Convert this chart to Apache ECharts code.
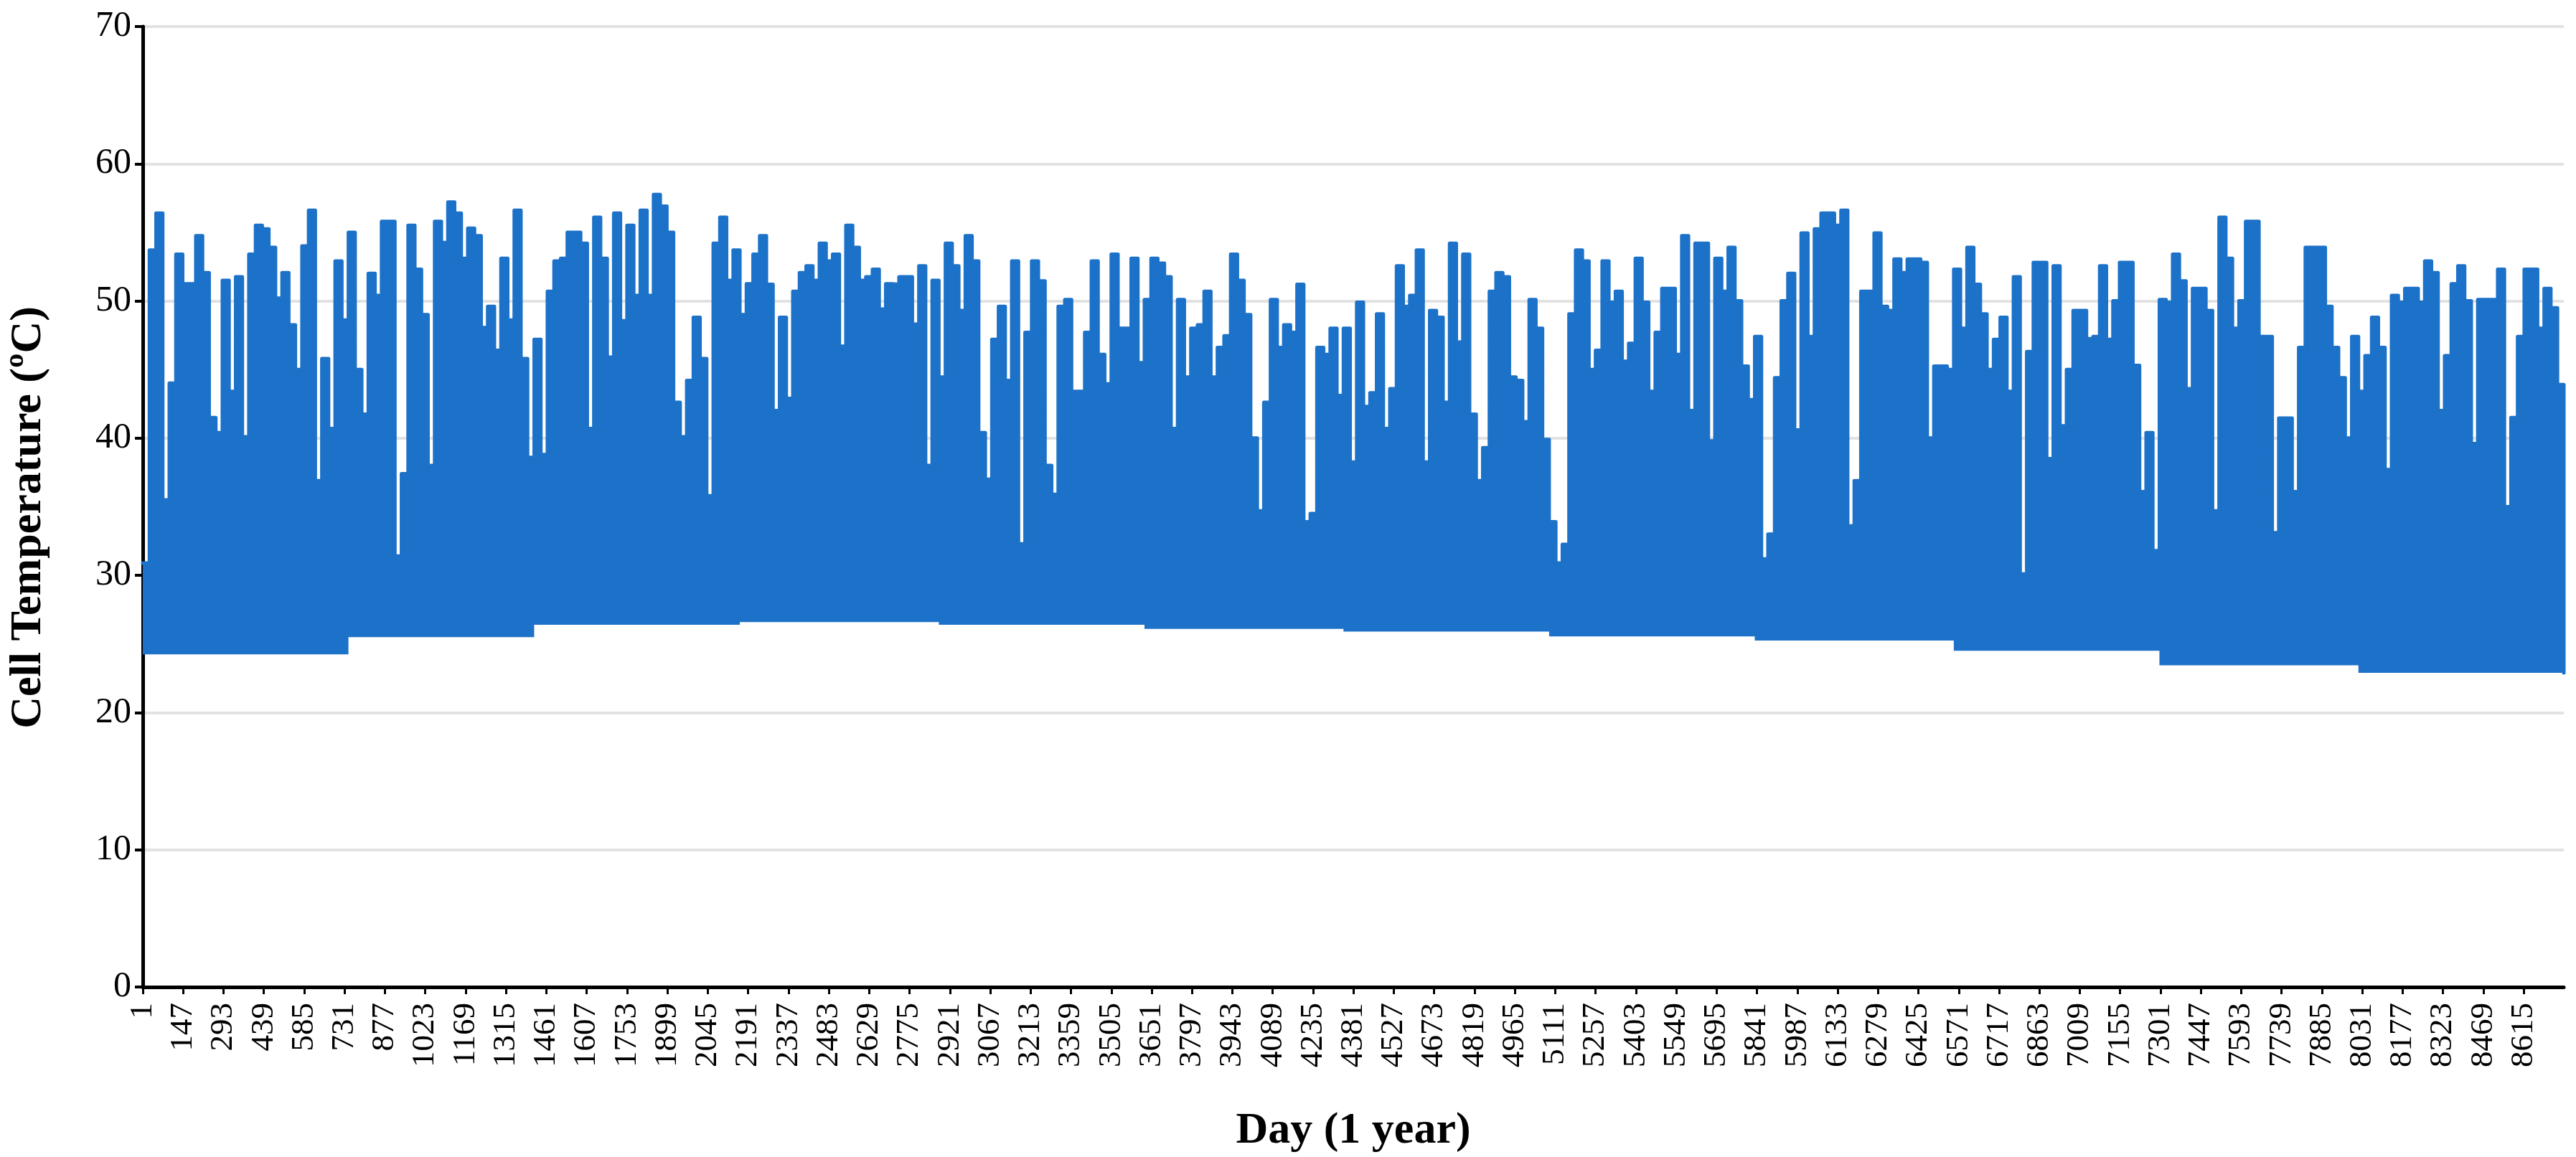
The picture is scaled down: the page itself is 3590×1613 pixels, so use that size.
<!DOCTYPE html>
<html>
<head>
<meta charset="utf-8">
<title>Cell Temperature</title>
<script src="https://cdn.jsdelivr.net/npm/echarts@6/dist/echarts.min.js"></script>
<style>
    html, body { margin: 0; padding: 0; background: #fff; }
    #chart { width: 3590px; height: 1613px; }
</style>
</head>
<body>
<div id="chart"></div>
<script>
// days per month, and the night-time floor of each month (ºC)
var monthDays = [31, 28, 31, 30, 31, 30, 31, 31, 30, 31, 30, 31];
var monthBase = [24.25, 25.5, 26.4, 26.6, 26.4, 26.1, 25.9, 25.55, 25.25, 24.5, 23.45, 22.9];

// daily peak cell temperature (ºC), day 1 .. day 365
var dailyPeak = [
    30.9, 53.7, 56.4, 35.5, 44, 53.4, 51.25, 51.25, 54.75, 52.05, 41.5, 40.4, 51.5, 43.4, 51.75,
    40.1, 53.4, 55.5, 55.25, 53.9, 50.2, 52.05, 48.25, 45, 54, 56.6, 36.9, 45.8, 40.7, 52.9,
    48.6, 55, 45, 41.75, 52, 50.4, 55.8, 55.8, 31.4, 37.4, 55.5, 52.3, 49, 38, 55.8,
    54.25, 57.2, 56.4, 53.1, 55.3, 54.75, 48.05, 49.6, 46.4, 53.1, 48.6, 56.6, 45.8, 38.6, 47.2, 38.8,
    50.7, 52.9, 53.1, 55, 55, 54.2, 40.7, 56.1, 53.1, 45.9, 56.4, 48.55, 55.5, 50.4, 56.6,
    50.4, 57.75, 56.9, 55, 42.6, 40.1, 44.2, 48.8, 45.8, 35.8, 54.2, 56.1, 51.5, 53.7, 49,
    51.25, 53.4, 54.75, 51.2, 42, 48.8, 42.9, 50.7, 52.05, 52.55, 51.5, 54.2, 52.9, 53.4, 46.7,
    55.5, 53.9, 51.5, 51.75, 52.3, 49.4, 51.25, 51.2, 51.75, 51.75, 48.3, 52.55, 38, 51.5, 44.45, 54.2,
    52.55, 49.3, 54.75, 52.9, 40.4, 37, 47.2, 49.6, 44.2, 52.9, 32.3, 47.7, 52.9, 51.45, 38,
    35.9, 49.6, 50.1, 43.4, 43.4, 47.7, 52.9, 46.1, 43.95, 53.4, 48, 48, 53.1, 45.5, 50.1,
    53.1, 52.75, 51.75, 40.7, 50.1, 44.45, 48, 48.25, 50.7, 44.45, 46.6, 47.45, 53.4, 51.5, 49,
    40, 34.7, 42.6, 50.1, 46.6, 48.25, 47.7, 51.2, 33.9, 34.5, 46.6, 46.1, 48, 43.1, 48, 38.25,
    49.9, 42.3, 43.3, 49.05, 40.7, 43.6, 52.55, 49.6, 50.4, 53.7, 38.25, 49.3, 48.8, 42.6, 54.2,
    47, 53.4, 41.75, 36.9, 39.3, 50.7, 52.05, 51.75, 44.45, 44.2, 41.2, 50.1, 48, 39.9, 33.9,
    30.9, 32.25, 49.05, 53.7, 52.9, 45, 46.4, 52.9, 49.9, 50.7, 45.6, 46.9, 53.1, 49.9, 43.4,
    47.7, 50.9, 50.9, 46.1, 54.75, 42, 54.2, 54.2, 39.8, 53.1, 50.7, 53.9, 50, 45.25, 42.8, 47.4,
    31.2, 33, 44.4, 50, 52, 40.6, 54.95, 47.4, 55.25, 56.4, 56.4, 55.5, 56.6, 33.6, 36.9,
    50.7, 50.7, 54.95, 49.6, 49.3, 53.05, 52.05, 53.05, 53.05, 52.8, 40, 45.25, 45.25, 45, 52.3,
    48, 53.9, 51.2, 49.05, 45, 47.2, 48.8, 43.4, 51.75, 30.1, 46.3, 52.8, 52.8, 38.5, 52.55,
    40.9, 45, 49.3, 49.3, 47.25, 47.4, 52.55, 47.2, 50, 52.8, 52.8, 45.3, 36.1, 40.4, 31.8, 50.1,
    49.9, 53.4, 51.45, 43.6, 50.9, 50.9, 49.3, 34.7, 56.1, 53.1, 48, 50, 55.8, 55.8, 47.4,
    47.4, 33.1, 41.45, 41.45, 36.1, 46.6, 53.9, 53.9, 53.9, 49.6, 46.6, 44.4, 40, 47.4, 43.4,
    46, 48.8, 46.6, 37.7, 50.4, 49.9, 50.9, 50.9, 49.9, 52.9, 52.05, 42, 46, 51.25, 52.55,
    50, 39.6, 50.1, 50.1, 50.1, 52.3, 35, 41.5, 47.4, 52.3, 52.3, 48, 50.9, 49.5, 43.9
];

// hourly categories 1 .. 8760, labelled every 146 hours
var hours = [];
for (var h = 1; h <= 8760; h++) {
    hours.push(String(h));
}

// floor (invisible) + rise above it, stacked so the fill sits on the floor
var floorData = [];
var riseData = [];
var day = 0;
monthDays.forEach(function (n, m) {
    for (var k = 0; k < n; k++, day++) {
        floorData.push([day * 24, monthBase[m]]);
        riseData.push([day * 24, +(dailyPeak[day] - monthBase[m]).toFixed(2)]);
    }
});
floorData.push([8759, monthBase[11]]);
riseData.push([8759, 0]);

var blue = '#1c71c8';
var serif = 'Liberation Serif';

var myChart = echarts.init(document.getElementById('chart'));
var option = {
    animation: false,
    backgroundColor: '#ffffff',
    grid: {
        left: 199,
        right: 17,
        top: 37,
        bottom: 237
    },
    xAxis: {
        type: 'category',
        data: hours,
        boundaryGap: false,
        name: 'Day (1 year)',
        nameLocation: 'middle',
        nameGap: 170,
        nameTextStyle: {
            fontFamily: serif,
            fontWeight: 'bold',
            fontSize: 62,
            color: '#000'
        },
        axisLine: {
            lineStyle: {
                color: '#000',
                width: 5
            }
        },
        axisTick: {
            interval: 145,
            length: 10,
            lineStyle: {
                color: '#000',
                width: 3
            }
        },
        axisLabel: {
            interval: 145,
            rotate: 90,
            margin: 22,
            fontFamily: serif,
            fontSize: 45,
            color: '#000'
        },
        splitLine: { show: false }
    },
    yAxis: {
        type: 'value',
        min: 0,
        max: 70,
        interval: 10,
        name: 'Cell Temperature (ºC)',
        nameLocation: 'middle',
        nameGap: 128,
        nameRotate: 90,
        nameTextStyle: {
            fontFamily: serif,
            fontWeight: 'bold',
            fontSize: 62,
            color: '#000',
            padding: [0, 30, 0, 0]
        },
        axisLine: {
            show: true,
            lineStyle: {
                color: '#000',
                width: 5
            }
        },
        axisTick: {
            show: true,
            length: 11,
            lineStyle: {
                color: '#000',
                width: 4
            }
        },
        axisLabel: {
            margin: 16,
            fontFamily: serif,
            fontSize: 50,
            color: '#000'
        },
        splitLine: {
            lineStyle: {
                color: '#e2e2e2',
                width: 4
            }
        }
    },
    series: [{
        name: 'floor',
        type: 'line',
        stack: 'temp',
        step: 'end',
        data: floorData,
        showSymbol: false,
        silent: true,
        lineStyle: { opacity: 0 }
    }, {
        name: 'Cell Temperature',
        type: 'line',
        stack: 'temp',
        step: 'end',
        data: riseData,
        showSymbol: false,
        lineStyle: {
            color: blue,
            width: 5,
            cap: 'round',
            join: 'round'
        },
        itemStyle: { color: blue },
        areaStyle: {
            color: blue,
            opacity: 1
        }
    }]
};
myChart.setOption(option, true);
window.onresize = myChart.resize;
</script>
</body>
</html>
